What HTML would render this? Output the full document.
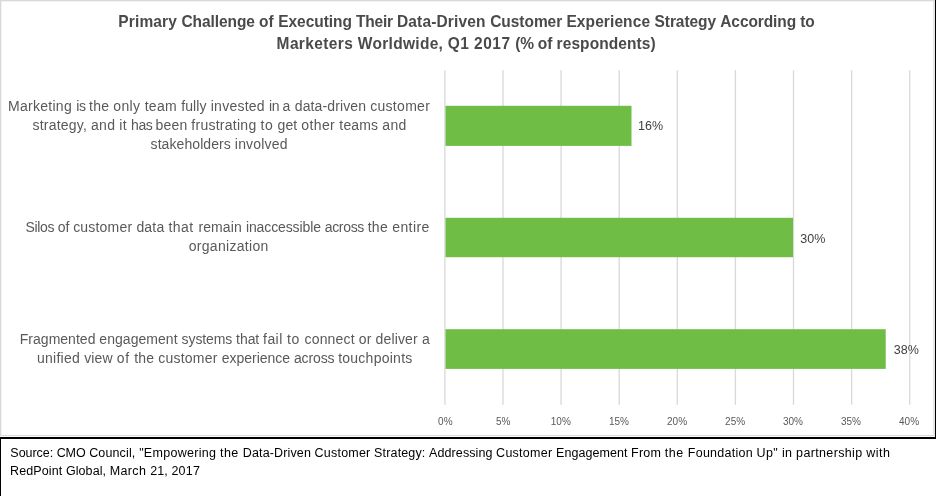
<!DOCTYPE html>
<html><head><meta charset="utf-8"><title>Chart</title><style>
html,body{margin:0;padding:0;background:#fff;}
body{width:936px;height:496px;position:relative;overflow:hidden;font-family:"Liberation Sans",sans-serif;}
#txt{position:absolute;left:0;top:0;width:936px;height:496px;will-change:transform;}
.t{position:absolute;white-space:pre;line-height:1;transform-origin:0 84.65%;}
svg{position:absolute;left:0;top:0;}
</style></head><body>
<svg width="936" height="496" viewBox="0 0 936 496">
<rect x="0" y="0" width="936" height="496" fill="#ffffff"/>
<rect x="0" y="0" width="934.8" height="1.35" fill="#d9d9d9"/>
<rect x="0" y="0" width="1.35" height="436.2" fill="#d9d9d9"/>
<rect x="933.3" y="0" width="1.5" height="436.2" fill="#dedede"/>
<rect x="0" y="434.9" width="934.8" height="1.3" fill="#dedede"/>
<line x1="444.9" y1="70.3" x2="444.9" y2="404.8" stroke="#d9d9d9" stroke-width="1.33"/>
<line x1="503.0" y1="70.3" x2="503.0" y2="404.8" stroke="#d9d9d9" stroke-width="1.33"/>
<line x1="561.1" y1="70.3" x2="561.1" y2="404.8" stroke="#d9d9d9" stroke-width="1.33"/>
<line x1="619.2" y1="70.3" x2="619.2" y2="404.8" stroke="#d9d9d9" stroke-width="1.33"/>
<line x1="677.3" y1="70.3" x2="677.3" y2="404.8" stroke="#d9d9d9" stroke-width="1.33"/>
<line x1="735.4" y1="70.3" x2="735.4" y2="404.8" stroke="#d9d9d9" stroke-width="1.33"/>
<line x1="793.5" y1="70.3" x2="793.5" y2="404.8" stroke="#d9d9d9" stroke-width="1.33"/>
<line x1="851.5999999999999" y1="70.3" x2="851.5999999999999" y2="404.8" stroke="#d9d9d9" stroke-width="1.33"/>
<line x1="909.7" y1="70.3" x2="909.7" y2="404.8" stroke="#d9d9d9" stroke-width="1.33"/>
<rect x="445.5" y="105.8" width="186.0" height="40.1" fill="#70bd45"/>
<rect x="445.5" y="217.8" width="347.5" height="39.4" fill="#70bd45"/>
<rect x="445.5" y="329.2" width="440.2" height="39.7" fill="#70bd45"/>
<rect x="935" y="0" width="1" height="439" fill="#000"/>
<rect x="0" y="437" width="936" height="2" fill="#000"/>
<rect x="0" y="437" width="1" height="59" fill="#000"/>
</svg>
<div id="txt">
<span class="t" id="t1" style="left:118.28px;top:13.68px;font-size:15.5px;font-weight:bold;color:#4a4a4a;transform:scaleY(1.06);"><span style="letter-spacing:0.150px">Primary </span><span style="letter-spacing:-0.089px">Challenge </span><span style="letter-spacing:0.104px">of </span><span style="letter-spacing:-0.054px">Executing </span><span style="letter-spacing:-0.234px">Their </span><span style="letter-spacing:0.166px">Data-Driven </span><span style="letter-spacing:-0.051px">Customer </span><span style="letter-spacing:0.097px">Experience </span><span style="letter-spacing:-0.066px">Strategy </span><span style="letter-spacing:-0.095px">According </span><span style="letter-spacing:-0.250px">to</span></span>
<span class="t" id="t2" style="left:276.60px;top:35.68px;font-size:15.5px;font-weight:bold;color:#4a4a4a;transform:scaleY(1.06);"><span style="letter-spacing:0.370px">Marketers </span><span style="letter-spacing:0.300px">Worldwide, </span><span style="letter-spacing:0.422px">Q1 </span><span style="letter-spacing:0.491px">2017 </span><span style="letter-spacing:-0.250px">(% </span><span style="letter-spacing:-0.062px">of </span><span style="letter-spacing:0.074px">respondents)</span></span>
<span class="t" id="c1a" style="left:8.06px;top:99.15px;font-size:14px;font-weight:normal;color:#595959;"><span style="letter-spacing:0.274px">Marketing </span><span style="letter-spacing:-0.367px">is </span><span style="letter-spacing:0.210px">the </span><span style="letter-spacing:0.364px">only </span><span style="letter-spacing:0.297px">team </span><span style="letter-spacing:0.134px">fully </span><span style="letter-spacing:0.239px">invested </span><span style="letter-spacing:-0.400px;margin-right:-0.10px">in </span><span style="letter-spacing:0.306px">a </span><span style="letter-spacing:0.122px">data-driven </span><span style="letter-spacing:0.303px">customer</span></span>
<span class="t" id="c1b" style="left:32.58px;top:117.75px;font-size:14px;font-weight:normal;color:#595959;"><span style="letter-spacing:0.195px">strategy, </span><span style="letter-spacing:0.250px">and </span><span style="letter-spacing:0.286px">it </span><span style="letter-spacing:-0.400px;margin-right:-0.37px">has </span><span style="letter-spacing:0.141px">been </span><span style="letter-spacing:0.259px">frustrating </span><span style="letter-spacing:0.474px">to </span><span style="letter-spacing:0.098px">get </span><span style="letter-spacing:0.365px">other </span><span style="letter-spacing:0.164px">teams </span><span style="letter-spacing:0.320px">and</span></span>
<span class="t" id="c1c" style="left:150.58px;top:136.75px;font-size:14px;font-weight:normal;color:#595959;"><span style="letter-spacing:0.075px">stakeholders </span><span style="letter-spacing:0.196px">involved</span></span>
<span class="t" id="c2a" style="left:25.42px;top:220.15px;font-size:14px;font-weight:normal;color:#595959;"><span style="letter-spacing:-0.331px">Silos </span><span style="letter-spacing:-0.026px">of </span><span style="letter-spacing:0.198px">customer </span><span style="letter-spacing:0.172px">data </span><span style="letter-spacing:0.500px;margin-right:0.25px">that </span><span style="letter-spacing:0.116px">remain </span><span style="letter-spacing:-0.108px">inaccessible </span><span style="letter-spacing:-0.304px">across </span><span style="letter-spacing:0.285px">the </span><span style="letter-spacing:0.444px">entire</span></span>
<span class="t" id="c2b" style="left:188.68px;top:238.90px;font-size:14px;font-weight:normal;color:#595959;letter-spacing:0.309px;">organization</span>
<span class="t" id="c3a" style="left:19.77px;top:331.90px;font-size:14px;font-weight:normal;color:#595959;"><span style="letter-spacing:0.020px">Fragmented </span><span style="letter-spacing:0.042px">engagement </span><span style="letter-spacing:-0.092px">systems </span><span style="letter-spacing:-0.050px">that </span><span style="letter-spacing:0.441px">fail </span><span style="letter-spacing:0.500px;margin-right:0.42px">to </span><span style="letter-spacing:0.158px">connect </span><span style="letter-spacing:0.152px">or </span><span style="letter-spacing:0.157px">deliver </span><span style="letter-spacing:-0.250px">a</span></span>
<span class="t" id="c3b" style="left:36.96px;top:350.65px;font-size:14px;font-weight:normal;color:#595959;"><span style="letter-spacing:0.255px">unified </span><span style="letter-spacing:0.159px">view </span><span style="letter-spacing:0.500px;margin-right:0.22px">of </span><span style="letter-spacing:0.185px">the </span><span style="letter-spacing:0.226px">customer </span><span style="letter-spacing:-0.017px">experience </span><span style="letter-spacing:-0.132px">across </span><span style="letter-spacing:0.254px">touchpoints</span></span>
<span class="t" id="s1" style="left:10.33px;top:446.57px;font-size:12.5px;font-weight:normal;color:#000000;"><span style="letter-spacing:-0.033px">Source: </span><span style="letter-spacing:-0.035px">CMO </span><span style="letter-spacing:0.151px">Council, </span><span style="letter-spacing:0.284px">&quot;Empowering </span><span style="letter-spacing:0.500px;margin-right:0.09px">the </span><span style="letter-spacing:0.132px">Data-Driven </span><span style="letter-spacing:0.205px">Customer </span><span style="letter-spacing:0.150px">Strategy: </span><span style="letter-spacing:0.089px">Addressing </span><span style="letter-spacing:0.260px">Customer </span><span style="letter-spacing:0.058px">Engagement </span><span style="letter-spacing:0.222px">From </span><span style="letter-spacing:0.500px;margin-right:0.14px">the </span><span style="letter-spacing:0.247px">Foundation </span><span style="letter-spacing:0.352px">Up&quot; </span><span style="letter-spacing:0.332px">in </span><span style="letter-spacing:0.349px">partnership </span><span style="letter-spacing:0.500px">with</span></span>
<span class="t" id="s2" style="left:10.12px;top:464.72px;font-size:12.5px;font-weight:normal;color:#000000;"><span style="letter-spacing:0.099px">RedPoint </span><span style="letter-spacing:0.082px">Global, </span><span style="letter-spacing:0.383px">March </span><span style="letter-spacing:0.098px">21, </span><span style="letter-spacing:0.229px">2017</span></span>
<span class="t" id="d1" style="left:638.00px;top:119.62px;font-size:12.5px;font-weight:normal;color:#404040;letter-spacing:0.029px;">16%</span>
<span class="t" id="d2" style="left:800.19px;top:232.67px;font-size:12.5px;font-weight:normal;color:#404040;letter-spacing:0.064px;">30%</span>
<span class="t" id="d3" style="left:893.71px;top:343.67px;font-size:12.5px;font-weight:normal;color:#404040;letter-spacing:0.107px;">38%</span>
<span class="t" id="a0" style="left:438.11px;top:416.54px;font-size:10px;font-weight:normal;color:#595959;">0%</span>
<span class="t" id="a1" style="left:496.03px;top:416.54px;font-size:10px;font-weight:normal;color:#595959;">5%</span>
<span class="t" id="a2" style="left:550.81px;top:416.54px;font-size:10px;font-weight:normal;color:#595959;">10%</span>
<span class="t" id="a3" style="left:608.96px;top:416.54px;font-size:10px;font-weight:normal;color:#595959;">15%</span>
<span class="t" id="a4" style="left:667.06px;top:416.54px;font-size:10px;font-weight:normal;color:#595959;">20%</span>
<span class="t" id="a5" style="left:725.09px;top:416.54px;font-size:10px;font-weight:normal;color:#595959;">25%</span>
<span class="t" id="a6" style="left:782.93px;top:416.54px;font-size:10px;font-weight:normal;color:#595959;">30%</span>
<span class="t" id="a7" style="left:840.93px;top:416.54px;font-size:10px;font-weight:normal;color:#595959;">35%</span>
<span class="t" id="a8" style="left:899.02px;top:416.54px;font-size:10px;font-weight:normal;color:#595959;">40%</span>
</div>
</body></html>
